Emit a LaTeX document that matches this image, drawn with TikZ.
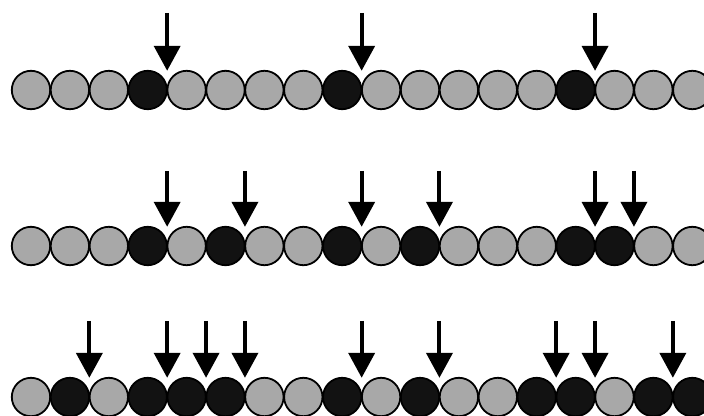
\documentclass[tikz,border=0pt]{standalone}
\usetikzlibrary{arrows.meta,calc}
\definecolor{beadg}{gray}{0.66}
\definecolor{beadb}{gray}{0.07}
\begin{document}
\begin{tikzpicture}[x=1pt,y=-1pt,
  bead/.style={circle,draw=black,line width=1.8pt,minimum size=38.4pt,inner sep=0pt,outer sep=0pt},
  marker/.style={line width=4pt,-{Triangle[length=25pt,width=26pt]}}]
\useasboundingbox (0,0) rectangle (704,415);
\clip (0,0) rectangle (704,415);
% row 1
\foreach \c [count=\i] in {g,g,g,b,g,g,g,g,b,g,g,g,g,g,b,g,g,g}
  \node[bead,fill=bead\c] (p\i) at ({31+(\i-1)*38.9},90) {};
\foreach \k in {4,9,15} {
  \pgfmathtruncatemacro\n{\k+1}
  \coordinate (p\k t) at ($(p\k.north)!.5!(p\n.north)+(0,-58)$);
  \draw[marker] (p\k t) -- ($(p\k.north)!.5!(p\n.north)$);
}
% row 2
\foreach \c [count=\i] in {g,g,g,b,g,b,g,g,b,g,b,g,g,g,b,b,g,g}
  \node[bead,fill=bead\c] (q\i) at ({31+(\i-1)*38.9},246) {};
\foreach \k in {4,6,9,11,15,16} {
  \pgfmathtruncatemacro\n{\k+1}
  \coordinate (q\k t) at ($(q\k.north)!.5!(q\n.north)+(0,-56)$);
  \draw[marker] (q\k t) -- ($(q\k.north)!.5!(q\n.north)$);
}
% row 3
\foreach \c [count=\i] in {g,b,g,b,b,b,g,g,b,g,b,g,g,b,b,g,b,b}
  \node[bead,fill=bead\c] (s\i) at ({31+(\i-1)*38.9},397) {};
\foreach \k in {2,4,5,6,9,11,14,15,17} {
  \pgfmathtruncatemacro\n{\k+1}
  \coordinate (s\k t) at ($(s\k.north)!.5!(s\n.north)+(0,-57)$);
  \draw[marker] (s\k t) -- ($(s\k.north)!.5!(s\n.north)$);
}
\end{tikzpicture}
\end{document}
